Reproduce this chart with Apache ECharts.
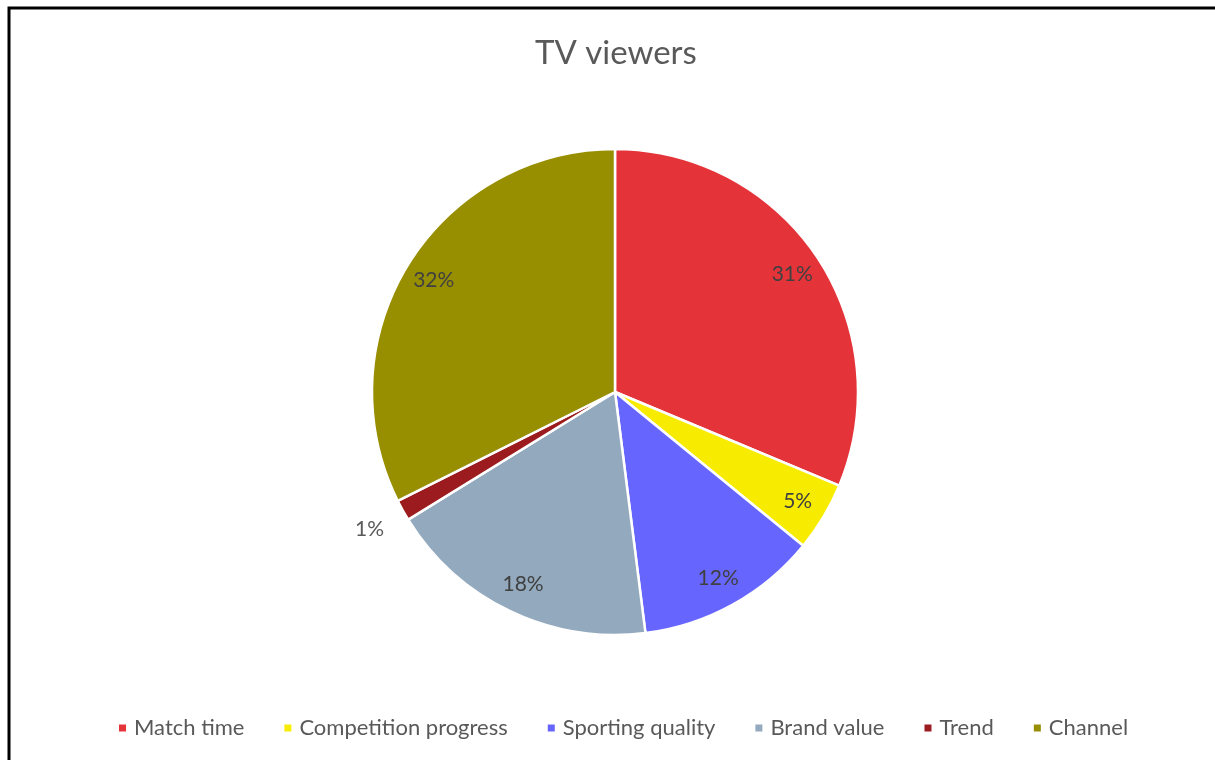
<!DOCTYPE html>
<html>
<head>
<meta charset="utf-8">
<script src="https://cdn.jsdelivr.net/npm/echarts@6/dist/echarts.min.js"></script>
<style>
  html, body { margin: 0; padding: 0; background: #ffffff; }
  #chart { width: 1215px; height: 760px; }
</style>
</head>
<body>
<div id="chart"></div>
<script>
// Share of TV viewers by decisive factor
const categories = ['Match time', 'Competition progress', 'Sporting quality', 'Brand value', 'Trend', 'Channel'];
const shares = [31.3, 4.6, 12.1, 18.2, 1.4, 32.4];
const colors = ['#E4343A', '#F7EC00', '#6666FF', '#92A9BE', '#9B1B1E', '#978E00'];
// small slices get their label outside the pie
const outsideLabel = [false, false, false, false, true, false];

const FONT = 'Lato';
const center = [615, 392];
const R = 243;

const pieData = categories.map((name, i) => ({
  name,
  value: shares[i],
  itemStyle: { color: colors[i] }
}));

// label rings: same values, transparent sectors, only used to place the percentages
const innerLabelData = categories.map((name, i) => ({
  name,
  value: shares[i],
  label: { show: !outsideLabel[i] }
}));
const outerLabelData = categories.map((name, i) => ({
  name,
  value: shares[i],
  label: { show: outsideLabel[i] }
}));

const percentLabel = {
  position: 'inside',
  formatter: p => Math.round(p.percent) + '%',
  fontFamily: FONT,
  fontSize: 21,
  color: '#404040'
};

const chart = echarts.init(document.getElementById('chart'), null, { renderer: 'canvas' });
chart.setOption({
  backgroundColor: '#ffffff',
  animation: false,
  title: {
    text: 'TV viewers',
    left: 530,
    top: 32,
    textStyle: { fontFamily: FONT, fontSize: 33, fontWeight: 'normal', color: '#595959' }
  },
  legend: {
    data: categories.map((name, i) => ({ name, itemStyle: { color: colors[i] } })),
    bottom: 16,
    left: 112,
    icon: 'rect',
    itemWidth: 9,
    itemHeight: 9,
    itemGap: 38,
    textStyle: { fontFamily: FONT, fontSize: 22, color: '#595959', padding: [0, 0, 0, 2] }
  },
  graphic: [{
    type: 'rect',
    silent: true,
    shape: { x: 9, y: 8, width: 1300, height: 900 },
    style: { fill: 'none', stroke: '#000000', lineWidth: 3 }
  }],
  series: [
    {
      type: 'pie',
      center,
      radius: [0, R],
      startAngle: 90,
      clockwise: true,
      data: pieData,
      label: { show: false },
      labelLine: { show: false },
      itemStyle: { borderColor: '#ffffff', borderWidth: 2.5 },
      emphasis: { disabled: true }
    },
    {
      type: 'pie',
      center,
      radius: [177, R],
      startAngle: 90,
      clockwise: true,
      silent: true,
      data: innerLabelData,
      itemStyle: { color: 'rgba(0,0,0,0)' },
      label: percentLabel,
      labelLine: { show: false },
      emphasis: { disabled: true }
    },
    {
      type: 'pie',
      center,
      radius: [272, 284],
      startAngle: 90,
      clockwise: true,
      silent: true,
      data: outerLabelData,
      itemStyle: { color: 'rgba(0,0,0,0)' },
      label: Object.assign({}, percentLabel, { color: '#595959' }),
      labelLine: { show: false },
      emphasis: { disabled: true }
    }
  ]
});
</script>
</body>
</html>
